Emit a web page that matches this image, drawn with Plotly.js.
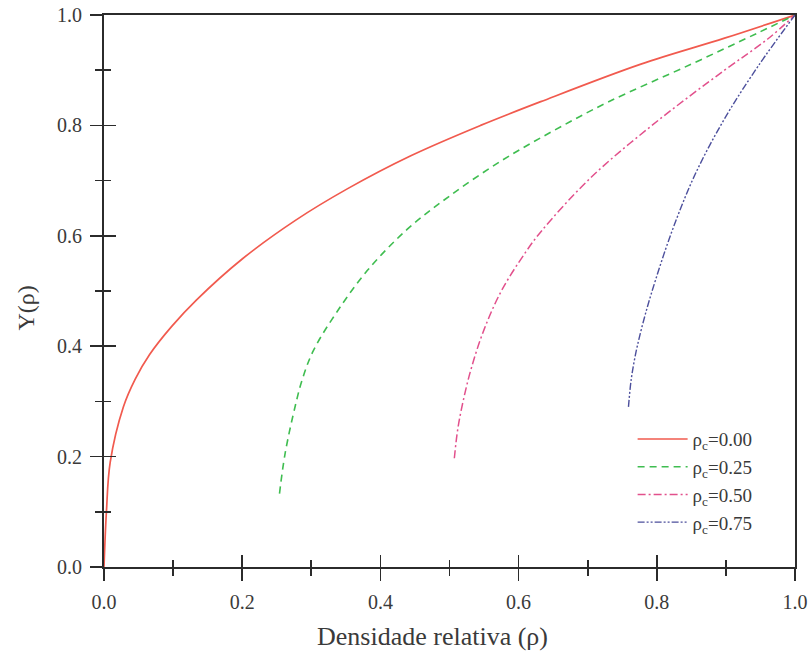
<!DOCTYPE html>
<html>
<head>
<meta charset="utf-8">
<script src="https://cdn.plot.ly/plotly-3.0.1.min.js"></script>
<style>html,body{margin:0;padding:0;background:#fff;}#chart{width:810px;height:662px;}</style>
</head>
<body>
<div id="chart"></div>
<script>
// Data
const rho_c000 = [0, 0.0035, 0.009, 0.028, 0.045, 0.066, 0.098, 0.134, 0.200, 0.277, 0.352, 0.444, 0.545, 0.632, 0.777, 0.898, 1.0];
const Y_c000   = [0, 0.100, 0.190, 0.290, 0.340, 0.385, 0.436, 0.484, 0.558, 0.628, 0.685, 0.745, 0.800, 0.843, 0.911, 0.958, 1.0];

const rho_c025 = [0.254, 0.262, 0.277, 0.287, 0.303, 0.337, 0.381, 0.439, 0.500, 0.574, 0.650, 0.729, 0.850, 0.947, 1.0];
const Y_c025   = [0.133, 0.205, 0.293, 0.340, 0.392, 0.462, 0.537, 0.612, 0.672, 0.735, 0.790, 0.842, 0.911, 0.968, 1.0];

const rho_c050 = [0.507, 0.512, 0.520, 0.532, 0.550, 0.575, 0.610, 0.632, 0.705, 0.802, 0.898, 0.961, 1.0];
const Y_c050   = [0.197, 0.250, 0.302, 0.362, 0.430, 0.500, 0.570, 0.607, 0.706, 0.809, 0.900, 0.957, 1.0];

const rho_c075 = [0.759, 0.763, 0.770, 0.780, 0.792, 0.821, 0.855, 0.898, 0.947, 1.0];
const Y_c075   = [0.290, 0.340, 0.390, 0.442, 0.495, 0.605, 0.710, 0.812, 0.908, 1.0];

const seriesNames = ['ρ<sub>c</sub>=0.00', 'ρ<sub>c</sub>=0.25', 'ρ<sub>c</sub>=0.50', 'ρ<sub>c</sub>=0.75'];
const tickVals = [0, 0.2, 0.4, 0.6, 0.8, 1.0];
const tickText = ['0.0', '0.2', '0.4', '0.6', '0.8', '1.0'];
const xTitle = 'Densidade relativa (ρ)';
const yTitle = 'Y(ρ)';

const serif = 'Liberation Serif, Times New Roman, serif';
const axCol = '#2b2b2b';
const txtCol = '#3a3a3a';

const traces = [
  {x: rho_c000, y: Y_c000, name: seriesNames[0], mode: 'lines',
   line: {color: '#f15a4e', width: 1.7, shape: 'spline', smoothing: 1}},
  {x: rho_c025, y: Y_c025, name: seriesNames[1], mode: 'lines',
   line: {color: '#3fbd50', width: 1.6, dash: '7px,5px', shape: 'spline', smoothing: 1}},
  {x: rho_c050, y: Y_c050, name: seriesNames[2], mode: 'lines',
   line: {color: '#e2508c', width: 1.5, dash: '8px,3px,2px,3px', shape: 'spline', smoothing: 1}},
  {x: rho_c075, y: Y_c075, name: seriesNames[3], mode: 'lines',
   line: {color: '#4c4f9c', width: 1.4, dash: '7px,2px,2px,2px,2px,2px', shape: 'spline', smoothing: 1}},
  // invisible carrier so the overlay axes (inner halves of the ticks) get drawn
  {x: rho_c000, y: Y_c000, xaxis: 'x2', yaxis: 'y2', showlegend: false, hoverinfo: 'skip',
   mode: 'lines', opacity: 0, line: {width: 0.1, color: 'rgba(0,0,0,0)'}}
];

const baseAxis = {
  range: [0, 1], showgrid: false, zeroline: false, fixedrange: true,
  tickvals: tickVals, ticktext: tickText,
  linecolor: axCol, linewidth: 2, tickcolor: axCol, tickwidth: 1.6,
  tickfont: {family: serif, size: 20, color: txtCol}
};

const layout = {
  width: 810, height: 662,
  margin: {l: 104, r: 15, t: 15, b: 95},
  paper_bgcolor: '#fff', plot_bgcolor: '#fff',
  showlegend: true,
  legend: {x: 0.765, y: 0.266, xanchor: 'left', yanchor: 'top',
           bgcolor: 'rgba(0,0,0,0)', borderwidth: 0, itemwidth: 50,
           font: {family: serif, size: 19, color: txtCol}, tracegroupgap: 0},
  xaxis: Object.assign({}, baseAxis, {
    showline: true, mirror: true, ticks: 'outside', ticklen: 12, ticklabelstandoff: 4,
    minor: {dtick: 0.1, ticks: 'outside', ticklen: 7, tickcolor: axCol, tickwidth: 1.6}
  }),
  yaxis: Object.assign({}, baseAxis, {
    showline: true, mirror: true, ticks: 'outside', ticklen: 12, ticklabelstandoff: 4,
    minor: {dtick: 0.1, ticks: 'outside', ticklen: 7, tickcolor: axCol, tickwidth: 1.6}
  }),
  xaxis2: Object.assign({}, baseAxis, {
    overlaying: 'x', anchor: 'y2', side: 'bottom', showline: false, showticklabels: false,
    ticks: 'inside', ticklen: 12,
    minor: {dtick: 0.1, ticks: 'inside', ticklen: 7, tickcolor: axCol, tickwidth: 1.6}
  }),
  yaxis2: Object.assign({}, baseAxis, {
    overlaying: 'y', anchor: 'x2', side: 'left', showline: false, showticklabels: false,
    ticks: 'inside', ticklen: 12,
    minor: {dtick: 0.1, ticks: 'inside', ticklen: 7, tickcolor: axCol, tickwidth: 1.6}
  }),
  annotations: [
    {text: xTitle, xref: 'paper', yref: 'paper', x: 0.475, y: -0.125,
     xanchor: 'center', yanchor: 'middle', showarrow: false,
     font: {family: serif, size: 26, color: txtCol}},
    {text: yTitle, xref: 'paper', yref: 'paper', x: -0.113, y: 0.47,
     xanchor: 'center', yanchor: 'middle', showarrow: false, textangle: -90,
     font: {family: serif, size: 24, color: txtCol}}
  ]
};

Plotly.newPlot('chart', traces, layout, {staticPlot: true, displayModeBar: false});
</script>
</body>
</html>
